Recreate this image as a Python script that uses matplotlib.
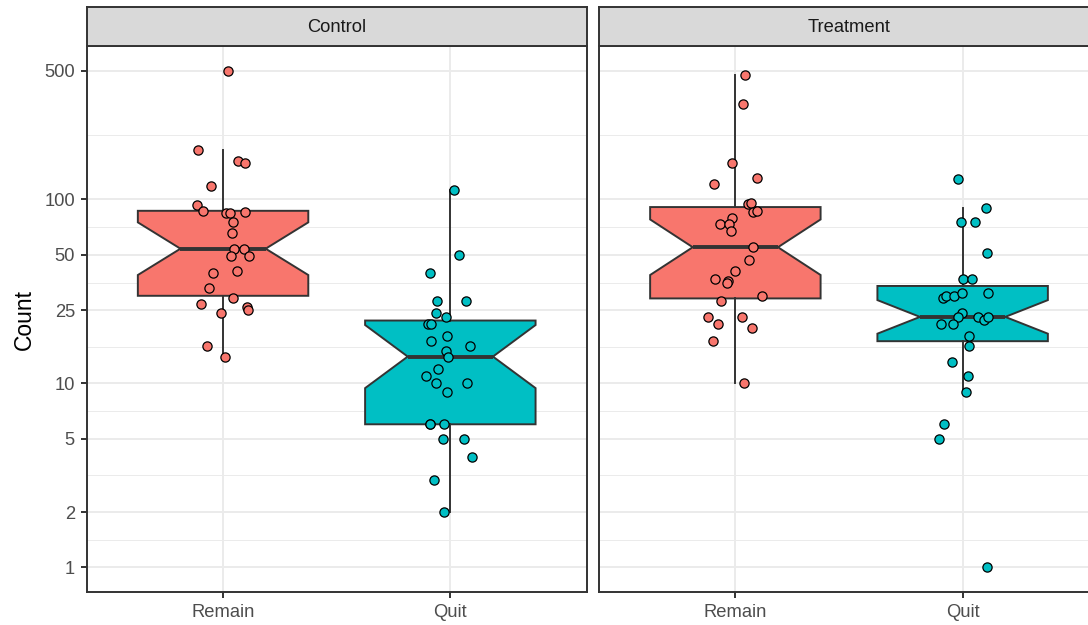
import numpy as np
import matplotlib
matplotlib.use('Agg')
import matplotlib.pyplot as plt
from matplotlib import cbook

plt.rcParams['font.family'] = ['Liberation Sans', 'DejaVu Sans']

panels = ['Control', 'Treatment']
groups = ['Remain', 'Quit']
colors = ['#F8766D', '#00BFC4']

# counts per person
control_remain = [500, 186, 162, 158, 119, 93, 87, 84, 84, 86, 75, 66, 54,
                  54, 49, 49, 41, 40, 33, 29, 27, 26, 25, 24, 16, 14]
control_quit = [112, 50, 40, 28, 28, 24, 23, 21, 21, 18, 17, 16, 15, 14,
                12, 11, 10, 10, 9, 6, 6, 5, 5, 4, 3, 2, 6]
treatment_remain = [472, 330, 157, 131, 121, 95, 96, 86, 87, 79, 74, 74, 67,
                    55, 47, 41, 37, 36, 35, 30, 28, 23, 23, 21, 20, 17, 10]
treatment_quit = [129, 90, 75, 75, 51, 37, 37, 29, 30, 30, 31, 31, 24, 23,
                  23, 22, 23, 21, 21, 18, 16, 13, 11, 9, 6, 5, 1]

# horizontal jitter of each point (category units)
control_remain_jit = [0.020, -0.112, 0.067, 0.096, -0.055, -0.116, -0.087,
                      0.013, 0.030, 0.096, 0.045, 0.040, 0.049, 0.093, 0.035,
                      0.115, 0.060, -0.044, -0.063, 0.045, -0.099, 0.106,
                      0.110, -0.009, -0.070, 0.010]
control_quit_jit = [0.015, 0.039, -0.090, -0.058, 0.070, -0.065, -0.019,
                    -0.097, -0.085, -0.014, -0.085, 0.086, -0.021, -0.009,
                    -0.056, -0.109, -0.063, 0.074, -0.015, -0.090, -0.028,
                    -0.033, 0.061, 0.095, -0.071, -0.030, -0.088]
treatment_remain_jit = [0.042, 0.032, -0.015, 0.095, -0.093, 0.054, 0.069,
                        0.076, 0.095, -0.014, -0.066, -0.027, -0.019, 0.076,
                        0.061, -0.003, -0.088, -0.034, -0.038, 0.117, -0.062,
                        -0.119, 0.028, -0.078, 0.072, -0.097, 0.038]
treatment_quit_jit = [-0.019, 0.103, -0.007, 0.054, 0.107, 0.003, 0.040,
                      -0.085, -0.072, -0.038, -0.002, 0.110, -0.002, -0.019,
                      0.069, 0.095, 0.111, -0.097, -0.041, 0.026, 0.028,
                      -0.047, 0.023, 0.015, -0.084, -0.104, 0.108]

y_breaks = [1, 2, 5, 10, 25, 50, 100, 500]

data = {
    'Control': [(control_remain, control_remain_jit), (control_quit, control_quit_jit)],
    'Treatment': [(treatment_remain, treatment_remain_jit), (treatment_quit, treatment_quit_jit)],
}

# log10 scale like scale_y_log10: stats computed on transformed values
all_vals = np.log10(np.concatenate([control_remain, control_quit,
                                    treatment_remain, treatment_quit]))
lo, hi = all_vals.min(), all_vals.max()
pad = (hi - lo) * 0.05
ylim = (lo - pad, hi + pad)

major = np.log10(y_breaks)
minor = (major[:-1] + major[1:]) / 2

W, H = 1088, 625
fig = plt.figure(figsize=(W / 100, H / 100), dpi=100)

panel_w = 500 / W
panel_b = (H - 592.3) / H
panel_h = (592.3 - 46) / H
strip_h = (46 - 7.3) / H
lefts = [86.7 / W, 599 / W]

edge = '#333333'
for k, name in enumerate(panels):
    ax = fig.add_axes([lefts[k], panel_b, panel_w, panel_h])
    ax.set_axisbelow(True)
    for j, (vals, jit) in enumerate(data[name]):
        lv = np.log10(vals)
        st = cbook.boxplot_stats(lv, whis=1.5)[0]
        half = 1.58 * st['iqr'] / np.sqrt(len(lv))
        st['cilo'] = st['med'] - half
        st['cihi'] = st['med'] + half
        bp = ax.bxp([st], positions=[j], widths=0.75, shownotches=True,
                    showcaps=False, showfliers=False, patch_artist=True,
                    boxprops=dict(edgecolor=edge, linewidth=1.4),
                    whiskerprops=dict(color=edge, linewidth=1.4),
                    medianprops=dict(color=edge, linewidth=2.8,
                                     solid_capstyle='butt'))
        for b in bp['boxes']:
            b.set_facecolor(colors[j])
        ax.scatter(j + np.array(jit), lv, s=44, facecolor=colors[j],
                   edgecolor='black', linewidths=0.9, zorder=4)

    ax.set_xlim(-0.6, 1.6)
    ax.set_ylim(*ylim)
    ax.set_xticks([0, 1])
    ax.set_xticklabels(groups)
    ax.set_yticks(major)
    ax.set_yticklabels([str(b) for b in y_breaks])
    ax.set_yticks(minor, minor=True)
    ax.grid(which='major', color='#EBEBEB', linewidth=1.4)
    ax.grid(which='minor', axis='y', color='#EBEBEB', linewidth=0.7)
    ax.tick_params(which='minor', length=0)
    ax.tick_params(which='major', colors=edge, labelcolor='#4D4D4D',
                   labelsize=13.2, length=4, width=1.4, pad=4.5)
    for s in ax.spines.values():
        s.set_color(edge)
        s.set_linewidth(1.4)
    if k == 0:
        ax.set_ylabel('Count', fontsize=16.5, color='black', labelpad=6)
    else:
        ax.tick_params(axis='y', which='major', length=0, labelleft=False)

    sax = fig.add_axes([lefts[k], panel_b + panel_h, panel_w, strip_h])
    sax.set_facecolor('#D9D9D9')
    sax.set_xticks([])
    sax.set_yticks([])
    for s in sax.spines.values():
        s.set_color(edge)
        s.set_linewidth(1.4)
    sax.text(0.5, 0.48, name, transform=sax.transAxes, ha='center',
             va='center', fontsize=13.2, color='#1A1A1A')

fig.savefig('out.png', dpi=100, facecolor='white')
